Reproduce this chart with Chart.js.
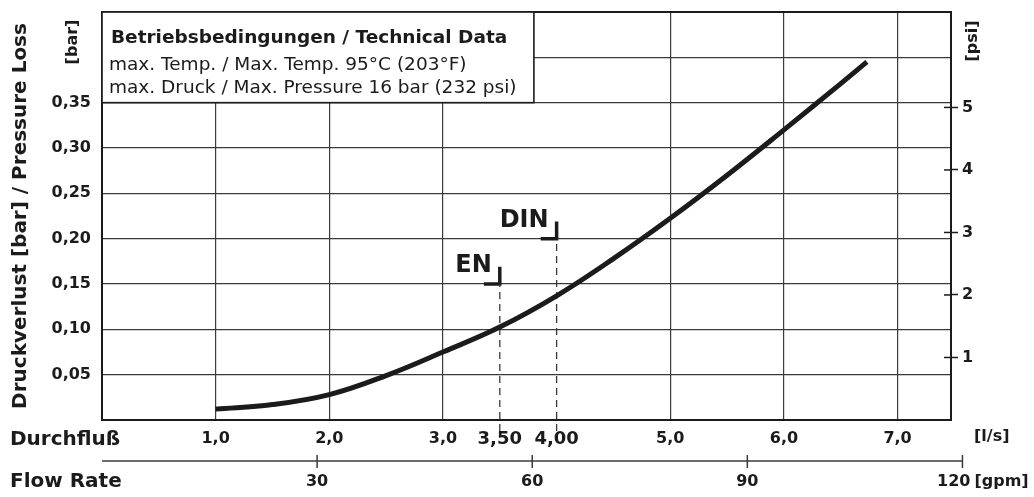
<!DOCTYPE html>
<html>
<head>
<meta charset="utf-8">
<script src="https://cdn.jsdelivr.net/npm/chart.js@4.4.1/dist/chart.umd.min.js"></script>
<style>
  html, body { margin: 0; padding: 0; background: #fff; }
  #wrap { width: 1034px; height: 497px; }
</style>
</head>
<body>
<div id="wrap"><canvas id="lossChart"></canvas></div>
<script>
// Pressure loss curve (flow in l/s, loss in bar)
const flowLs  = [1.0, 1.5, 2.0, 2.5, 3.0, 3.5, 4.0, 4.5, 5.0, 5.5, 6.0, 6.5, 6.73];
const lossBar = [0.012, 0.017, 0.028, 0.049, 0.075, 0.1025, 0.137, 0.178, 0.2225, 0.270, 0.320, 0.371, 0.395];

const xTicks      = [1, 2, 3, 3.5, 4, 5, 6, 7];
const xTickLabels = ["1,0", "2,0", "3,0", "3,50", "4,00", "5,0", "6,0", "7,0"];
const yTicks      = [0.05, 0.10, 0.15, 0.20, 0.25, 0.30, 0.35, 0.40];
const yTickLabels = ["0,05", "0,10", "0,15", "0,20", "0,25", "0,30", "0,35", ""];
const psiTicks    = [1, 2, 3, 4, 5];
const gpmTicks    = [30, 60, 90, 120];

// EN / DIN nominal flows
const markerNames = ["EN", "DIN"];
const markerFlow  = [3.5, 4.0];
const markerLoss  = [0.15, 0.20];

const BAR_TO_PSI = 14.5038;
const GPM_TO_LS = 0.06309;
const X_MAX = 7.47, Y_MAX = 0.45;

const ink = "#1b1b1b";
const gridInk = "#3a3a3a";
const FONT = "'DejaVu Sans', sans-serif";
Chart.defaults.font.family = FONT;
Chart.defaults.color = ink;

// datasets
const curve = {
  data: flowLs.map((f, i) => ({ x: f, y: lossBar[i] })),
  borderColor: ink,
  borderWidth: 5,
  pointRadius: 0,
  tension: 0.4,
  fill: false
};

const markerSets = [];
markerFlow.forEach((f, i) => {
  markerSets.push({
    data: [{ x: f, y: -0.012 }, { x: f, y: markerLoss[i] }],
    borderColor: gridInk, borderWidth: 1.3, borderDash: [7, 5],
    pointRadius: 0, clip: false
  });
  markerSets.push({
    data: [{ x: f - 0.14, y: markerLoss[i] }, { x: f, y: markerLoss[i] }, { x: f, y: markerLoss[i] + 0.019 }],
    borderColor: ink, borderWidth: 3.5, borderJoinStyle: "miter",
    pointRadius: 0, tension: 0
  });
});

// no extra room for labels at the ends of the axes
function noPad(s) {
  s.paddingTop = 0; s.paddingBottom = 0; s.paddingLeft = 0; s.paddingRight = 0;
}

// everything drawn around the plot
const extras = {
  id: "extras",
  afterDraw(chart) {
    const { ctx, chartArea: a, scales: { x, y, y1 } } = chart;
    ctx.save();
    ctx.strokeStyle = ink;
    ctx.fillStyle = ink;

    // top border
    ctx.lineWidth = 2;
    ctx.beginPath(); ctx.moveTo(a.left, a.top); ctx.lineTo(a.right, a.top); ctx.stroke();

    // inner half of psi ticks
    ctx.lineWidth = 1.5;
    psiTicks.forEach(v => {
      const py = y1.getPixelForValue(v);
      ctx.beginPath(); ctx.moveTo(a.right - 7, py); ctx.lineTo(a.right, py); ctx.stroke();
    });

    // info box
    const bx = a.left, by = a.top;
    const bw = x.getPixelForValue(3.8) - bx, bh = y.getPixelForValue(0.35) - by;
    ctx.fillStyle = "#fff";
    ctx.fillRect(bx, by, bw, bh);
    ctx.lineWidth = 1.6;
    ctx.strokeRect(bx, by, bw, bh);
    ctx.fillStyle = ink;
    ctx.textBaseline = "middle";
    ctx.textAlign = "left";
    ctx.font = "bold 18.5px " + FONT;
    ctx.fillText("Betriebsbedingungen / Technical Data", bx + 9, by + 26);
    ctx.font = "18.5px " + FONT;
    ctx.fillText("max. Temp. / Max. Temp. 95°C (203°F)", bx + 7, by + 53);
    ctx.fillText("max. Druck / Max. Pressure 16 bar (232 psi)", bx + 7, by + 76);

    // EN / DIN labels
    ctx.font = "bold 24px " + FONT;
    ctx.textAlign = "right";
    ctx.textBaseline = "alphabetic";
    markerNames.forEach((n, i) => {
      ctx.fillText(n, x.getPixelForValue(markerFlow[i]) - 8, y.getPixelForValue(markerLoss[i]) - 12);
    });

    // rotated unit labels
    ctx.font = "bold 16px " + FONT;
    ctx.textAlign = "center";
    ctx.textBaseline = "middle";
    [["[bar]", 73, 42], ["[psi]", 973, 41]].forEach(([t, tx, ty]) => {
      ctx.save(); ctx.translate(tx, ty); ctx.rotate(-Math.PI / 2); ctx.fillText(t, 0, 0); ctx.restore();
    });

    // bottom captions
    ctx.textAlign = "left";
    ctx.font = "bold 20px " + FONT;
    ctx.fillText("Durchfluß", 10, 440);
    ctx.fillText("Flow Rate", 10, 482);
    ctx.font = "bold 16px " + FONT;
    ctx.fillText("[l/s]", 974, 437);

    // gpm axis
    const yg = 461;
    const gx = v => x.getPixelForValue(v * GPM_TO_LS);
    ctx.lineWidth = 1.5;
    ctx.strokeStyle = gridInk;
    ctx.beginPath(); ctx.moveTo(gx(0), yg); ctx.lineTo(gx(120), yg); ctx.stroke();
    gpmTicks.forEach(g => {
      const px = gx(g);
      ctx.beginPath(); ctx.moveTo(px, yg - 6); ctx.lineTo(px, yg + 7); ctx.stroke();
      if (g === 120) {
        ctx.textAlign = "right";
        ctx.fillText(String(g), px + 8, 482);
        ctx.textAlign = "left";
        ctx.fillText("[gpm]", px + 12, 482);
      } else {
        ctx.textAlign = "center";
        ctx.fillText(String(g), px, 482);
      }
    });
    ctx.restore();
  }
};

new Chart(document.getElementById("lossChart"), {
  type: "line",
  data: { datasets: [curve, ...markerSets] },
  options: {
    responsive: true,
    maintainAspectRatio: false,
    animation: false,
    layout: { padding: { top: 12, left: 0, right: 0, bottom: 0 } },
    plugins: { legend: { display: false }, tooltip: { enabled: false } },
    scales: {
      x: {
        type: "linear", min: 0, max: X_MAX,
        afterBuildTicks: s => { s.ticks = xTicks.map(v => ({ value: v })); },
        afterFit: s => { s.height = 77; noPad(s); },
        grid: {
          color: c => (c.tick && markerFlow.includes(c.tick.value)) ? "rgba(0,0,0,0)" : gridInk,
          lineWidth: 1.2, drawTicks: false
        },
        border: { display: true, color: ink, width: 2 },
        ticks: {
          autoSkip: false, maxRotation: 0, padding: 9, color: ink,
          font: c => ({ weight: "bold", size: (c.tick && markerFlow.includes(c.tick.value)) ? 18 : 16 }),
          callback: (v, i) => xTickLabels[i]
        }
      },
      y: {
        type: "linear", position: "left", min: 0, max: Y_MAX,
        afterBuildTicks: s => { s.ticks = yTicks.map(v => ({ value: v })); },
        afterFit: s => { s.width = 102; noPad(s); },
        grid: { color: gridInk, lineWidth: 1.2, drawTicks: false },
        border: { display: true, color: ink, width: 2 },
        ticks: { padding: 11, color: ink, font: { weight: "bold", size: 16 }, callback: (v, i) => yTickLabels[i] },
        title: {
          display: true, text: "Druckverlust [bar] / Pressure Loss",
          color: ink, font: { weight: "bold", size: 20 }, padding: { top: 9, bottom: 0 }
        }
      },
      y1: {
        type: "linear", position: "right", min: 0, max: Y_MAX * BAR_TO_PSI,
        afterBuildTicks: s => { s.ticks = psiTicks.map(v => ({ value: v })); },
        afterFit: s => { s.width = 83; noPad(s); },
        grid: { drawOnChartArea: false, drawTicks: true, tickLength: 7, tickColor: ink, tickWidth: 1.5 },
        border: { display: true, color: ink, width: 2 },
        ticks: { padding: 4, color: ink, font: { weight: "bold", size: 16 }, callback: v => String(v) }
      }
    }
  },
  plugins: [extras]
});
</script>
</body>
</html>
